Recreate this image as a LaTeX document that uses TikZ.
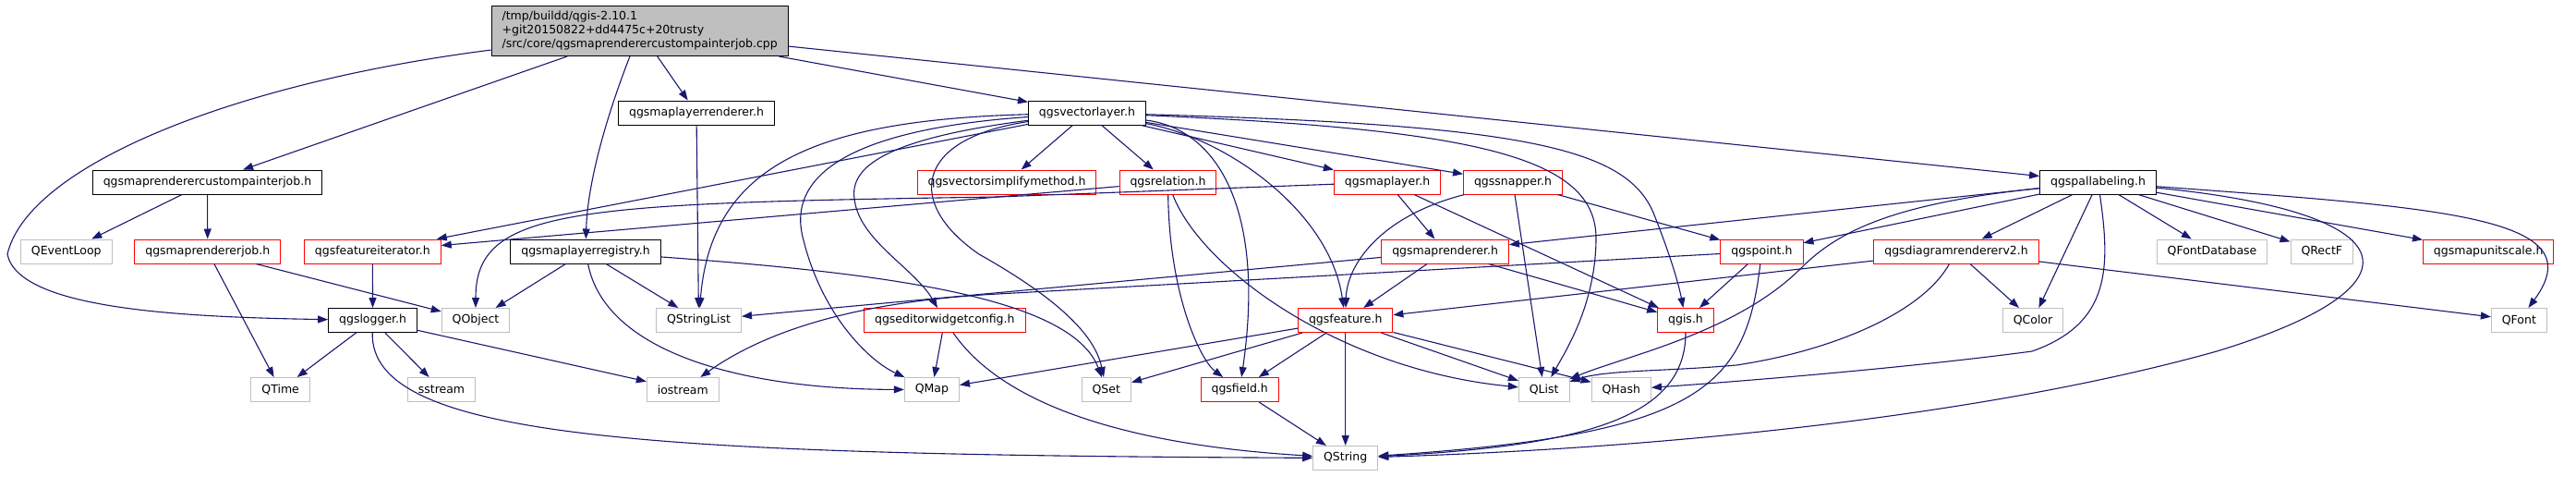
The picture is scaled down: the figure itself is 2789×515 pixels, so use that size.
\documentclass[tikz,border=0pt]{standalone}
\usepackage{fontspec}
\setmainfont{DejaVu Sans}
\usetikzlibrary{arrows.meta}
\definecolor{edgeblue}{HTML}{191970}
\definecolor{boxgray}{HTML}{BFBFBF}

\begin{document}
\begin{tikzpicture}[
    x=1pt, y=-1pt,
    file/.style={rectangle, draw=black, fill=white, line width=1pt, minimum height=26pt,
      inner xsep=11.5pt, inner ysep=0pt, font=\fontsize{12.5}{15}\selectfont},
    undoc/.style={file, draw=red},
    sys/.style={file, draw=boxgray},
    arrow/.style={-{Triangle[length=11pt,width=8pt]}, color=edgeblue, line width=1.1pt}
  ]
  \useasboundingbox (0,0) rectangle (2789,515);

  % top row
  \node[file, fill=boxgray, align=left, inner ysep=6pt] (root) at (692.7,33.5)
    {/tmp/buildd/qgis-2.10.1\\+git20150822+dd4475c+20trusty\\/src/core/qgsmaprenderercustompainterjob.cpp};
  \node[file] (mlr) at (754,122) {qgsmaplayerrenderer.h};
  \node[file] (vl) at (1177,122) {qgsvectorlayer.h};

  % second row
  \node[file] (cpj) at (224.5,197) {qgsmaprenderercustompainterjob.h};
  \node[undoc] (vsm) at (1090,197) {qgsvectorsimplifymethod.h};
  \node[undoc] (rel) at (1264.5,197) {qgsrelation.h};
  \node[undoc] (ml) at (1502,197) {qgsmaplayer.h};
  \node[undoc] (snap) at (1638,197) {qgssnapper.h};
  \node[file] (pal) at (2271.5,197) {qgspallabeling.h};

  % third row
  \node[sys] (evl) at (71.8,272) {QEventLoop};
  \node[undoc] (mrj) at (224.8,272) {qgsmaprendererjob.h};
  \node[undoc] (fit) at (403.3,272) {qgsfeatureiterator.h};
  \node[file] (mlreg) at (634,272) {qgsmaplayerregistry.h};
  \node[undoc] (mr) at (1564.6,272) {qgsmaprenderer.h};
  \node[undoc] (pt) at (1907.4,272) {qgspoint.h};
  \node[undoc] (drv) at (2118,272) {qgsdiagramrendererv2.h};
  \node[sys] (qfdb) at (2395,272) {QFontDatabase};
  \node[sys] (qrect) at (2513.8,272) {QRectF};
  \node[undoc] (mus) at (2694.2,272) {qgsmapunitscale.h};

  % fourth row
  \node[file] (log) at (403.6,346.5) {qgslogger.h};
  \node[sys] (qobj) at (515,346.5) {QObject};
  \node[sys] (qsl) at (756.5,346.5) {QStringList};
  \node[undoc] (ewc) at (1022.8,346.5) {qgseditorwidgetconfig.h};
  \node[undoc] (feat) at (1456.7,346.5) {qgsfeature.h};
  \node[undoc] (qgis) at (1825,346.5) {qgis.h};
  \node[sys] (qcol) at (2201,346.5) {QColor};
  \node[sys] (qfont) at (2727.4,346.5) {QFont};

  % fifth row
  \node[sys] (qtime) at (303.7,421.5) {QTime};
  \node[sys] (sstr) at (478,421.5) {sstream};
  \node[sys] (iostr) at (739.3,421.5) {iostream};
  \node[sys] (qmap) at (1008.9,421.5) {QMap};
  \node[sys] (qset) at (1197.8,421.5) {QSet};
  \node[undoc] (fld) at (1342.2,421.5) {qgsfield.h};
  \node[sys] (qlist) at (1671.7,421.5) {QList};
  \node[sys] (qhash) at (1755.3,421.5) {QHash};
  \node[sys] (qstr) at (1456.7,495.5) {QString};

  % includes of the .cpp file
  \draw[arrow] (root) .. controls (250,90) and (30,180) .. (8,275) .. controls (20,335) and (200,343) .. (log);
  \draw[arrow] (root) -- (cpj);
  \draw[arrow] (root) .. controls (655,130) and (636,200) .. (mlreg);
  \draw[arrow] (root) -- (mlr);
  \draw[arrow] (root) -- (vl);
  \draw[arrow] (root) -- (pal);

  \draw[arrow] (cpj) -- (evl);
  \draw[arrow] (cpj) -- (mrj);
  \draw[arrow] (mlr) -- (qsl);
  \draw[arrow] (mrj) -- (qtime);
  \draw[arrow] (mrj) -- (qobj);
  \draw[arrow] (fit) -- (log);

  \draw[arrow] (mlreg) -- (qobj);
  \draw[arrow] (mlreg) -- (qsl);
  \draw[arrow] (mlreg) .. controls (655,380) and (800,421) .. (qmap);
  \draw[arrow] (mlreg) .. controls (950,295) and (1160,320) .. (qset);

  \draw[arrow] (log) -- (qtime);
  \draw[arrow] (log) -- (sstr);
  \draw[arrow] (log) -- (iostr);
  \draw[arrow] (log) .. controls (400,475) and (700,492) .. (qstr);

  % qgsvectorlayer.h
  \draw[arrow] (vl) -- (fit);
  \draw[arrow] (vl) -- (vsm);
  \draw[arrow] (vl) -- (rel);
  \draw[arrow] (vl) -- (ml);
  \draw[arrow] (vl) -- (snap);
  \draw[arrow] (vl) .. controls (880,130) and (770,180) .. (qsl);
  \draw[arrow] (vl) .. controls (920,140) and (850,190) .. (870,260) .. controls (890,340) and (940,390) .. (qmap);
  \draw[arrow] (vl) .. controls (960,150) and (920,180) .. (925,215) .. controls (930,260) and (990,290) .. (ewc);
  \draw[arrow] (vl) .. controls (990,150) and (980,220) .. (1060,275) .. controls (1140,320) and (1185,360) .. (qset);
  \draw[arrow] (vl) .. controls (1330,150) and (1440,230) .. (feat);
  \draw[arrow] (vl) .. controls (1320,140) and (1370,230) .. (fld);
  \draw[arrow] (vl) .. controls (1600,140) and (1730,170) .. (1728,260) .. controls (1727,330) and (1695,380) .. (qlist);
  \draw[arrow] (vl) .. controls (1650,135) and (1760,160) .. (1790,230) .. controls (1810,280) and (1818,310) .. (qgis);

  \draw[arrow] (rel) -- (fit);
  \draw[arrow] (rel) .. controls (1266,320) and (1300,390) .. (fld);
  \draw[arrow] (rel) .. controls (1300,290) and (1450,400) .. (qlist);

  \draw[arrow] (ml) -- (1080,213) .. controls (620,220) and (515,225) .. (qobj);
  \draw[arrow] (ml) -- (mr);
  \draw[arrow] (ml) -- (qgis);

  \draw[arrow] (snap) .. controls (1490,235) and (1458,290) .. (feat);
  \draw[arrow] (snap) -- (qlist);
  \draw[arrow] (snap) -- (pt);

  \draw[arrow] (mr) -- (qsl);
  \draw[arrow] (mr) -- (feat);
  \draw[arrow] (mr) -- (qgis);

  % qgspallabeling.h
  \draw[arrow] (pal) -- (mr);
  \draw[arrow] (pal) -- (pt);
  \draw[arrow] (pal) .. controls (2050,220) and (1990,250) .. (1950,290) .. controls (1880,360) and (1760,385) .. (qlist);
  \draw[arrow] (pal) -- (drv);
  \draw[arrow] (pal) -- (qcol);
  \draw[arrow] (pal) .. controls (2285,290) and (2285,350) .. (2200,380) .. controls (2050,400) and (1850,415) .. (qhash);
  \draw[arrow] (pal) -- (qfdb);
  \draw[arrow] (pal) -- (qrect);
  \draw[arrow] (pal) -- (mus);
  \draw[arrow] (pal) .. controls (2650,225) and (2810,235) .. (qfont);
  \draw[arrow] (pal) .. controls (2610,230) and (2630,310) .. (2400,380) .. controls (2150,450) and (1800,485) .. (qstr);

  \draw[arrow] (drv) -- (feat);
  \draw[arrow] (drv) .. controls (2080,340) and (1980,380) .. (1880,395) .. controls (1800,402) and (1740,400) .. (qlist);
  \draw[arrow] (drv) -- (qcol);
  \draw[arrow] (drv) -- (qfont);

  \draw[arrow] (pt) -- (1080,318) .. controls (950,325) and (840,350) .. (iostr);
  \draw[arrow] (pt) -- (qgis);
  \draw[arrow] (pt) .. controls (1890,420) and (1840,470) .. (qstr);
  \draw[arrow] (qgis) .. controls (1825,450) and (1720,482) .. (qstr);

  % qgsfeature.h and the rest
  \draw[arrow] (feat) -- (qmap);
  \draw[arrow] (feat) -- (qset);
  \draw[arrow] (feat) -- (fld);
  \draw[arrow] (feat) -- (qstr);
  \draw[arrow] (feat) -- (qlist);
  \draw[arrow] (feat) -- (qhash);
  \draw[arrow] (ewc) -- (qmap);
  \draw[arrow] (ewc) .. controls (1080,430) and (1200,480) .. (qstr);
  \draw[arrow] (fld) -- (qstr);

\end{tikzpicture}
\end{document}
